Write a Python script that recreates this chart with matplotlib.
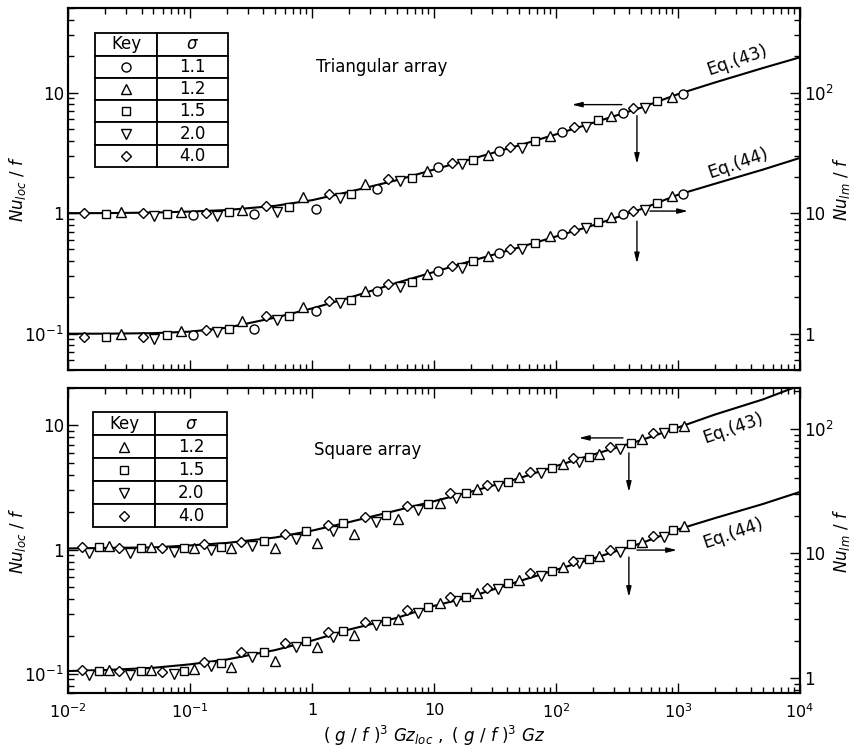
import numpy as np
import matplotlib
matplotlib.use("Agg")
import matplotlib.pyplot as plt
from matplotlib.ticker import LogLocator, FuncFormatter, NullFormatter

plt.rcParams['font.family'] = 'DejaVu Sans'
plt.rcParams['mathtext.fontset'] = 'dejavusans'

# correlation curves, read at fixed x
curve_x = [0.01, 0.02, 0.05, 0.1, 0.2, 0.5, 1, 2, 5, 10, 20, 50, 100, 200, 500,
           1000, 2000, 5000, 10000]
tri_eq43 = [1.0, 1.0, 1.01, 1.03, 1.06, 1.15, 1.28, 1.5, 1.88, 2.3, 2.8, 3.65, 4.5,
            5.6, 7.5, 9.7, 12.1, 16.0, 19.6]
tri_eq44 = [1.0, 1.0, 1.01, 1.04, 1.12, 1.36, 1.62, 1.98, 2.65, 3.25, 4.0, 5.2, 6.4,
            7.9, 10.8, 14.2, 17.5, 23.0, 28.7]
sq_eq43 = [1.02, 1.03, 1.04, 1.08, 1.13, 1.25, 1.42, 1.66, 2.07, 2.45, 2.92, 3.75,
           4.7, 5.8, 7.6, 9.6, 12.2, 16.2, 21.0]
sq_eq44 = [1.14, 1.16, 1.21, 1.29, 1.41, 1.68, 2.0, 2.45, 3.05, 3.8, 4.5, 6.0, 7.4,
           9.1, 12.1, 15.6, 19.2, 25.0, 31.2]

# triangular array data: x, Nu_loc/f, Nu_lm/f
tri_keys = ['1.1', '1.2', '1.5', '2.0', '4.0']
tri_x = [
    [0.106, 0.335, 1.08, 3.41, 10.8, 34.1, 112, 354, 1099],
    [0.0272, 0.0843, 0.267, 0.843, 2.72, 8.77, 27.7, 89.3, 282, 893],
    [0.0205, 0.0648, 0.209, 0.648, 2.09, 6.61, 20.9, 67.3, 221, 673],
    [0.0507, 0.166, 0.516, 1.70, 5.26, 17.0, 52.6, 176, 537],
    [0.0135, 0.0412, 0.135, 0.420, 1.38, 4.20, 14.1, 42.0, 141, 428],
]
tri_loc = [
    [0.96, 0.98, 1.08, 1.58, 2.42, 3.29, 4.73, 6.81, 9.81],
    [1.02, 1.02, 1.06, 1.36, 1.74, 2.24, 3.04, 4.38, 6.43, 9.26],
    [0.98, 0.98, 1.02, 1.12, 1.44, 1.96, 2.77, 3.98, 5.96, 8.58],
    [0.94, 0.94, 1.02, 1.33, 1.85, 2.56, 3.48, 5.21, 7.50],
    [1.0, 1.0, 1.0, 1.14, 1.44, 1.92, 2.61, 3.55, 5.21, 7.50],
]
tri_lm = [
    [0.98, 1.10, 1.53, 2.24, 3.29, 4.64, 6.68, 9.81, 14.4],
    [1.0, 1.06, 1.28, 1.68, 2.24, 3.10, 4.38, 6.43, 9.26, 13.9],
    [0.93, 0.98, 1.10, 1.41, 1.92, 2.66, 3.98, 5.62, 8.41, 12.1],
    [0.91, 1.04, 1.31, 1.78, 2.42, 3.48, 5.01, 7.50, 10.6],
    [0.93, 0.94, 1.08, 1.39, 1.88, 2.56, 3.62, 5.01, 7.22, 10.4],
]

# square array data
sq_keys = ['1.2', '1.5', '2.0', '4.0']
sq_x = [
    [0.0217, 0.0479, 0.108, 0.217, 0.498, 1.10, 2.21, 5.07, 11.2, 22.5, 49.8, 114, 225, 507, 1119],
    [0.0179, 0.0396, 0.0893, 0.179, 0.404, 0.893, 1.80, 4.04, 8.93, 18.3, 40.4, 92.7, 186, 412, 910],
    [0.0149, 0.0322, 0.0739, 0.149, 0.322, 0.739, 1.49, 3.35, 7.40, 15.1, 33.5, 75.4, 154, 335, 767],
    [0.0130, 0.0262, 0.0589, 0.130, 0.262, 0.601, 1.35, 2.72, 6.01, 13.5, 27.2, 61.3, 138, 277, 624],
]
sq_loc = [
    [1.07, 1.05, 1.03, 1.03, 1.03, 1.13, 1.34, 1.76, 2.37, 3.07, 3.84, 4.89, 5.89, 7.77, 9.89],
    [1.05, 1.03, 1.03, 1.05, 1.17, 1.41, 1.64, 1.90, 2.33, 2.86, 3.50, 4.54, 5.57, 7.21, 9.53],
    [0.94, 0.94, 0.96, 0.99, 1.07, 1.22, 1.41, 1.67, 2.08, 2.60, 3.25, 4.14, 5.07, 6.46, 8.68],
    [1.05, 1.03, 1.03, 1.11, 1.15, 1.34, 1.58, 1.83, 2.24, 2.86, 3.31, 4.22, 5.47, 6.70, 8.68],
]
sq_lm = [
    [1.16, 1.16, 1.18, 1.22, 1.37, 1.77, 2.21, 2.98, 4.00, 4.82, 6.12, 7.79, 9.55, 12.4, 16.6],
    [1.14, 1.14, 1.14, 1.32, 1.62, 1.98, 2.39, 2.87, 3.72, 4.47, 5.79, 7.23, 9.03, 11.9, 15.4],
    [1.06, 1.06, 1.08, 1.25, 1.47, 1.77, 2.13, 2.66, 3.33, 4.15, 5.19, 6.59, 8.39, 10.3, 13.6],
    [1.16, 1.14, 1.12, 1.34, 1.62, 1.91, 2.34, 2.82, 3.52, 4.47, 5.28, 6.97, 8.71, 10.7, 13.8],
]

marker_style = {'1.1': ('o', 6.5), '1.2': ('^', 7), '1.5': ('s', 6),
                '2.0': ('v', 7), '4.0': ('D', 5.5)}


def pow_fmt(v, pos):
    e = int(round(np.log10(v)))
    if e == 0:
        return '1'
    if e == 1:
        return '10'
    return r'$10^{%d}$' % e


def setup_log(axis):
    axis.set_major_locator(LogLocator(base=10, numticks=20))
    axis.set_minor_locator(LogLocator(base=10, subs=np.arange(2, 10), numticks=20))
    axis.set_major_formatter(FuncFormatter(pow_fmt))
    axis.set_minor_formatter(NullFormatter())


def draw_panel(ax, ylim, ylim_r, keys, xs, locs, lms, eq43, eq44, title, title_xy,
               eq_pos, arrows, table_box, show_x):
    ax2 = ax.twinx()
    ax.set_xscale('log')
    ax.set_yscale('log')
    ax2.set_yscale('log')
    ax.set_xlim(1e-2, 1e4)
    ax.set_ylim(*ylim)
    ax2.set_ylim(*ylim_r)

    ax.plot(curve_x, eq43, color='black', lw=1.5, zorder=2)
    ax2.plot(curve_x, eq44, color='black', lw=1.5, zorder=2)
    for k, x, yl, ym in zip(keys, xs, locs, lms):
        m, ms = marker_style[k]
        ax.plot(x, yl, ls='none', marker=m, ms=ms, mfc='white', mec='black', mew=1.0, zorder=3)
        ax2.plot(x, ym, ls='none', marker=m, ms=ms, mfc='white', mec='black', mew=1.0, zorder=3)

    for a in (ax, ax2):
        for s in a.spines.values():
            s.set_linewidth(1.5)
    setup_log(ax.xaxis)
    setup_log(ax.yaxis)
    setup_log(ax2.yaxis)
    ax.tick_params(which='both', direction='in', top=True, right=False, labelsize=12)
    ax.tick_params(which='major', length=7, width=1.0)
    ax.tick_params(which='minor', length=4, width=1.0)
    ax.tick_params(axis='y', pad=3)
    ax2.tick_params(which='both', direction='in', labelsize=12, pad=3)
    ax2.tick_params(which='major', length=7, width=1.0)
    ax2.tick_params(which='minor', length=4, width=1.0)
    if not show_x:
        ax.tick_params(axis='x', labelbottom=False)
    else:
        ax.tick_params(axis='x', pad=7, labelsize=11.5)

    ax.set_ylabel(r'$Nu_{loc}\ /\ f$', fontsize=12)
    ax.yaxis.set_label_coords(-0.055, 0.5)
    ax2.set_ylabel(r'$Nu_{lm}\ /\ f$', fontsize=12)
    ax2.yaxis.set_label_coords(1.043, 0.5)

    ax.text(title_xy[0], title_xy[1], title, fontsize=12, ha='center', va='center')
    ax.text(eq_pos[0][0], eq_pos[0][1], 'Eq.(43)', fontsize=12.5, rotation=19,
            ha='center', va='center')
    ax.text(eq_pos[1][0], eq_pos[1][1], 'Eq.(44)', fontsize=12.5, rotation=19,
            ha='center', va='center')
    for head, tail in arrows:
        ax.annotate('', xy=head, xytext=tail,
                    arrowprops=dict(arrowstyle='-|>,head_length=0.6,head_width=0.15',
                                    color='black', lw=1.0, shrinkA=0, shrinkB=0))

    # key table
    x0, y0, w, h = table_box
    rows = [['', k] for k in keys]
    tb = ax2.table(cellText=rows, colLabels=['Key', r'$\sigma$'], cellLoc='center',
                   colWidths=[0.465, 0.535], bbox=[x0, y0, w, h], zorder=5)
    tb.auto_set_font_size(False)
    tb.set_fontsize(12)
    for c in tb.get_celld().values():
        c.set_linewidth(1.3)
    nr = len(keys) + 1
    for i, k in enumerate(keys):
        m, ms = marker_style[k]
        yc = y0 + h - (i + 1.5) * h / nr
        ax2.plot([x0 + w * 0.465 / 2], [yc], transform=ax2.transAxes, marker=m, ms=ms,
                 mfc='white', mec='black', mew=1.0, ls='none', zorder=6, clip_on=False)
    return ax2


fig = plt.figure(figsize=(8.51, 7.52), dpi=100)
ax_top = fig.add_axes([0.080, 0.508, 0.860, 0.481])
ax_bot = fig.add_axes([0.080, 0.0785, 0.860, 0.4056])

draw_panel(ax_top, (0.05, 50), (0.5, 500), tri_keys, tri_x, tri_loc, tri_lm,
           tri_eq43, tri_eq44, 'Triangular array', (3.7, 16.2),
           [(3050, 18.5), (3100, 2.61)],
           [((135, 7.94), (347, 7.94)), ((461, 2.56), (461, 6.43)),
            ((1208, 1.04), (589, 1.04)), ((461, 0.383), (461, 0.858))],
           (0.037, 0.561, 0.182, 0.370), False)

draw_panel(ax_bot, (0.07, 20), (0.76, 213), sq_keys, sq_x, sq_loc, sq_lm,
           sq_eq43, sq_eq44, 'Square array', (2.83, 6.34),
           [(2830, 9.53), (2830, 1.36)],
           [((154, 7.92), (354, 7.92)), ((396, 2.91), (396, 6.0)),
            ((982, 0.99), (461, 0.99)), ((396, 0.415), (396, 0.87))],
           (0.034, 0.544, 0.183, 0.377), True)

ax_bot.set_xlabel(r'$(\ g\ /\ f\ )^3\ Gz_{loc}\ ,\ (\ g\ /\ f\ )^3\ Gz$', fontsize=12,
                  labelpad=2)

fig.savefig('out.png', dpi=100)
